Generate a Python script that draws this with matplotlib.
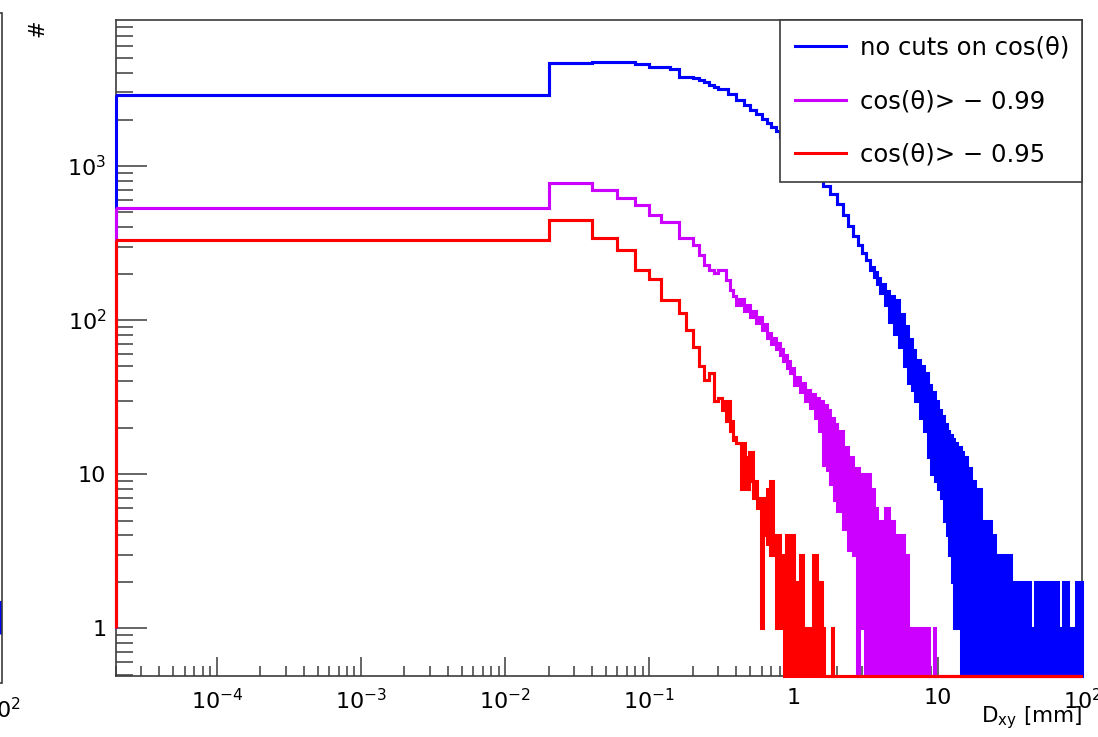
import numpy as np
import matplotlib.pyplot as plt
from matplotlib.lines import Line2D
from matplotlib.ticker import LogLocator, NullFormatter

plt.rcParams['font.family'] = ['DejaVu Sans']
plt.rcParams['mathtext.fontset'] = 'dejavusans'

# D_xy histograms, 0.02 mm bins.
# Up to 0.30 mm every bin is listed; past that the bins get narrower than the
# drawing resolution, so each column keeps the lowest and highest bin content.
bin_width = 0.02

blue_fine = [2890, 4640, 4760, 4760, 4590, 4410, 4410, 4240, 3800, 3800,
             3730, 3610, 3510, 3360, 3260]
purple_fine = [533, 772, 699, 620, 559, 481, 430, 430, 340, 340,
               307, 264, 228, 211, 202]
red_fine = [331, 446, 340, 285, 211, 186, 135, 135, 111, 86,
            67, 50, 41, 45, 30]

blue_cols = [0.30, 0.35, 0.40, 0.45, 0.50, 0.55, 0.60, 0.65, 0.70, 0.75,
             0.80, 0.90, 1.0, 1.2, 1.4, 1.6, 1.8, 2.0, 2.2, 2.4,
             2.6, 2.8, 3.0, 3.2, 3.4, 3.6, 3.8, 4.0, 4.3, 4.6,
             5.0, 5.4, 5.8, 6.2, 6.6, 7.0, 7.5, 8.0, 8.5, 9.0,
             9.5, 10, 10.5, 11, 11.5, 12, 12.5, 13, 13.5, 14,
             14.5, 15, 16, 17, 18, 19, 20, 21, 22, 23.5,
             25, 26.5, 28, 30, 32, 34.6, 36.3, 43.3, 46.9, 52.5,
             55, 62.5, 64.6, 67.7, 73.4, 79.5, 90.3, 100]
blue_hi = [3160, 2935, 2684, 2470, 2310, 2160, 2020, 1890, 1790, 1690,
           1544, 1390, 1196, 1000, 861, 741, 658, 565, 481, 408,
           351, 307, 272, 246, 221, 205, 188, 172, 155, 143,
           135, 110, 92, 75, 64, 55, 50, 45, 38, 34,
           30, 26, 24, 21, 19, 18, 17, 16, 15, 15,
           14, 13, 11, 9, 8, 8, 5, 5, 5, 4,
           3, 3, 3, 3, 2, 1, 2, 1, 2, 1,
           2, 1, 2, 1, 2, 1, 2]
blue_lo = blue_hi[:24] + [210, 190, 172, 150, 125, 97,
                          81, 67, 50, 39, 35, 30, 23, 19, 13, 10,
                          9, 8, 7, 5, 4, 3, 2, 1, 1, 1] + [0] * 27

purple_cols = [0.30, 0.32, 0.34, 0.36, 0.38, 0.40, 0.45, 0.50, 0.55, 0.60,
               0.65, 0.70, 0.75, 0.80, 0.85, 0.90, 0.95, 1.0, 1.1, 1.2,
               1.3, 1.4, 1.5, 1.6, 1.7, 1.8, 1.9, 2.0, 2.2, 2.4,
               2.6, 2.75, 2.85, 3.15, 3.4, 3.6, 3.8, 4.0, 4.3, 4.6,
               5.0, 5.4, 5.8, 6.2, 8.7, 9.4, 9.6, 100]
purple_hi = [211, 211, 182, 157, 143, 137, 125, 114, 105, 94,
             83, 77, 71, 65, 59, 54, 49, 43, 39, 35,
             33, 31, 30, 28, 26, 23, 21, 19, 15, 13,
             11, 11, 10, 10, 8, 6, 5, 5, 6, 5,
             4, 4, 3, 1, 0, 1, 0]
purple_lo = [211, 211, 182, 157, 143, 125, 115, 105, 96, 86,
             77, 70, 65, 59, 54, 49, 45, 38, 34, 30,
             27, 23, 19, 11.4, 10.6, 8.6, 6.8, 5.8, 4.4, 3.2,
             3, 0, 1, 0] + [0] * 13

red_cols = [0.30, 0.32, 0.34, 0.36, 0.38, 0.40, 0.43, 0.46, 0.49, 0.52,
            0.56, 0.59, 0.61, 0.65, 0.69, 0.72, 0.76, 0.80, 0.86, 0.89,
            0.93, 0.97, 1.01, 1.10, 1.17, 1.36, 1.45, 1.52, 1.58, 1.62,
            1.84, 1.89, 100]
red_hi = [31, 30, 30, 22, 17.5, 16, 16, 13, 14, 9,
          7, 7, 7, 8, 9, 4, 4, 3, 3, 4,
          1, 4, 2, 3, 1, 3, 1, 2, 1, 0,
          1, 0]
red_lo = [31, 26, 22, 19, 16.6, 16, 8, 8, 9, 7,
          6, 1, 4, 3.5, 3, 3, 1, 1] + [0] * 14

labels = ['no cuts on cos(θ)', 'cos(θ)> − 0.99', 'cos(θ)> − 0.95']
colors = ['#0000ff', '#cc00ff', '#ff0000']

x_min, x_max = 2e-5, 100
y_min, y_max = 0.49, 8850
left_floor = 1.0  # leading edge of each histogram starts here

# neighbouring pad, only its right border shows
prev_tail_edges = [80, 100]
prev_tail_counts = [1.6]

line_w = 2.2


def draw_hist(ax, fine, cols, hi, lo, color):
    edges = np.concatenate([np.arange(len(fine)) * bin_width, cols])
    edges[0] = x_min
    top = np.maximum(np.concatenate([fine, hi]), y_min)
    bottom = np.maximum(np.concatenate([fine, lo]), y_min)
    ax.stairs(top, edges, baseline=bottom, fill=True, facecolor=color,
              edgecolor=color, lw=line_w, clip_on=False, zorder=3)
    ax.vlines(x_min, left_floor, fine[0], color=color, lw=line_w,
              clip_on=False, zorder=3)


fig = plt.figure(figsize=(10.98, 7.37), dpi=100)
ax = fig.add_axes([0.10565, 0.08277, 0.87978, 0.89009])

draw_hist(ax, blue_fine, blue_cols, blue_hi, blue_lo, colors[0])
draw_hist(ax, purple_fine, purple_cols, purple_hi, purple_lo, colors[1])
draw_hist(ax, red_fine, red_cols, red_hi, red_lo, colors[2])

ax.set_xscale('log')
ax.set_yscale('log')
ax.set_xlim(x_min, x_max)
ax.set_ylim(y_min, y_max)

ax.set_xticks([1e-4, 1e-3, 1e-2, 1e-1, 1, 10, 100],
              labels=['$10^{-4}$', '$10^{-3}$', '$10^{-2}$', '$10^{-1}$',
                      '1', '10', '$10^{2}$'])
ax.set_yticks([1, 10, 100, 1000], labels=['1', '10', '$10^{2}$', '$10^{3}$'])
for axis in (ax.xaxis, ax.yaxis):
    axis.set_minor_locator(LogLocator(base=10, subs=np.arange(2, 10) * 1.0, numticks=60))
    axis.set_minor_formatter(NullFormatter())

frame_col = '#3c3c3c'
ax.tick_params(which='both', direction='in', top=False, right=False,
               color=frame_col, width=1.1)
ax.tick_params(axis='x', which='major', length=14, pad=9, labelsize=16)
ax.tick_params(axis='x', which='minor', length=7)
ax.tick_params(axis='y', which='major', length=22, pad=7, labelsize=16)
ax.tick_params(axis='y', which='minor', length=12)
for sp in ax.spines.values():
    sp.set_color(frame_col)
    sp.set_linewidth(1.2)

ax.set_xlabel('D$_{\\mathrm{xy}}$ [mm]', fontsize=15.5, ha='right', va='center')
ax.xaxis.set_label_coords(1.0, -0.063)
fig.text(0.034, 0.962, '#', rotation=90, fontsize=15, ha='center', va='center')

handles = [Line2D([], [], color=c, lw=line_w) for c in colors]
leg = ax.legend(handles, labels, loc='upper left', mode='expand',
                bbox_to_anchor=(0.687, 0.0, 0.313, 1.0), borderaxespad=0,
                fontsize=17.5, handlelength=2.1, handletextpad=0.55,
                labelspacing=1.22, borderpad=0.64, fancybox=False,
                framealpha=1, edgecolor=frame_col)
leg.get_frame().set_linewidth(1.2)

# sliver of the previous pad at the left border
ax_prev = fig.add_axes([-0.4, 0.0733, 0.4 + 1.5 / 1098, 0.9091])
ax_prev.set_xscale('log')
ax_prev.set_yscale('log')
ax_prev.set_xlim(x_min, x_max)
ax_prev.set_ylim(y_min, y_max)
ax_prev.stairs(prev_tail_counts, prev_tail_edges, baseline=left_floor,
               color=colors[0], lw=line_w)
ax_prev.set_xticks([100], labels=['$10^{2}$'])
ax_prev.set_yticks([])
ax_prev.xaxis.set_minor_locator(plt.NullLocator())
ax_prev.yaxis.set_minor_locator(plt.NullLocator())
ax_prev.tick_params(axis='x', length=0, pad=10, labelsize=16)
for sp in ax_prev.spines.values():
    sp.set_color(frame_col)
    sp.set_linewidth(1.2)

fig.savefig('out.png', dpi=100)
